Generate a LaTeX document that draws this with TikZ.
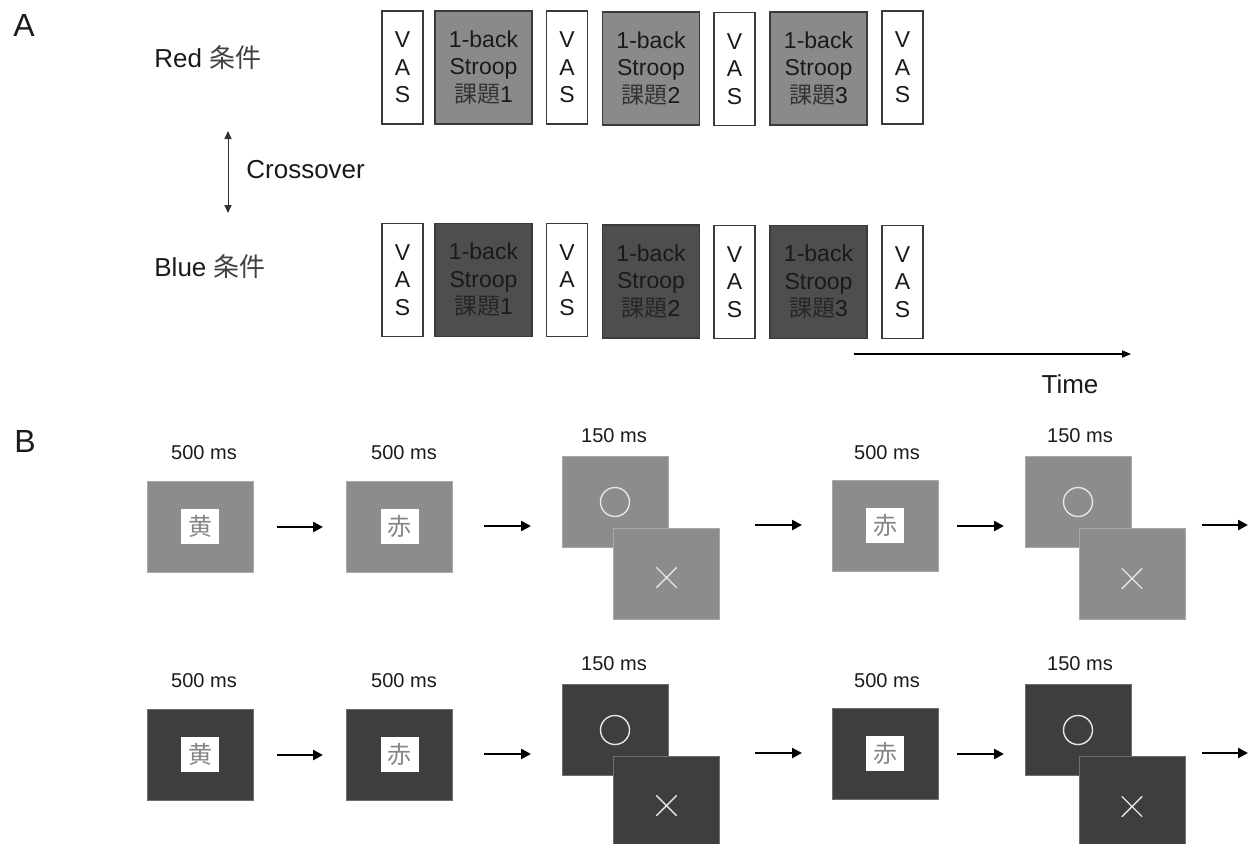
\documentclass[tikz,border=0pt]{standalone}
\usepackage{fontspec}
\setmainfont{Liberation Sans}
\newfontfamily\cjk{Noto Sans CJK JP}
\usetikzlibrary{arrows.meta,calc,shapes.misc}

\definecolor{boxline}{HTML}{3A3A3A}
\definecolor{redtask}{HTML}{8A8A8A}
\definecolor{bluetask}{HTML}{4E4E4E}
\definecolor{redscreen}{HTML}{8C8C8C}
\definecolor{bluescreen}{HTML}{3E3E3E}
\definecolor{kanjigray}{HTML}{858585}
\definecolor{symcol}{HTML}{E6E6E6}
\definecolor{txt}{HTML}{1A1A1A}

\begin{document}
\begin{tikzpicture}[x=0.5pt,y=-0.5pt,
  every node/.style={text=txt},
  vasbox/.style={draw=boxline,line width=0.7pt,fill=white,inner sep=0pt,
    minimum width=20.5pt,minimum height=56.5pt,align=center,
    font=\fontsize{11.5}{13.75}\selectfont,
    execute at begin node={\rule{0pt}{11.3pt}}},
  taskbox/.style={vasbox,minimum width=48.5pt},
  lab/.style={font=\fontsize{13}{15}\selectfont,inner sep=0pt},
  panel/.style={font=\fontsize{16}{18}\selectfont,inner sep=0pt},
  dur/.style={font=\fontsize{10}{12}\selectfont,inner sep=0pt},
  screen/.style={draw=#1!75!white,line width=0.5pt,fill=#1,inner sep=0pt,
    minimum width=53pt,minimum height=45.5pt},
  cue/.style={fill=white,inner sep=0pt,minimum width=19pt,minimum height=17.5pt,
    text=kanjigray,font=\cjk\fontsize{12}{12}\selectfont},
  ringsym/.style={circle,draw=symcol,line width=0.7pt,inner sep=0pt,minimum size=14.5pt},
  crosssym/.style={cross out,draw=symcol,line width=0.7pt,inner sep=0pt,minimum size=9.5pt},
  flow/.style={line width=1.4pt,-{Triangle[length=5pt,width=5pt]}},
  thinarrow/.style={line width=0.5pt,draw=black!80,{Triangle[length=4pt,width=3.6pt]}-{Triangle[length=4pt,width=3.6pt]}},
  timearrow/.style={line width=0.6pt,-{Triangle[length=4.5pt,width=3.6pt]}}
]
\useasboundingbox (0,0) rectangle (1250,843);
\clip (0,0) rectangle (1250,843);

% ---------------- Panel A: session schedule ----------------
\node[panel] (pa) at (24,25.5) {A};
\node[lab,anchor=west] (red) at (154,58) {Red {\cjk\color{black!75}条件}};
\node[lab,anchor=west] (blue) at (154,267) {Blue {\cjk\color{black!75}条件}};

\coordinate (xotop) at (228,131);
\coordinate (xobot) at (228,213);
\draw[thinarrow] (xotop) -- (xobot);
\node[lab,anchor=west] (xo) at (246,170) {Crossover};

% Red condition row
\node[vasbox] (rv1) at (402.5,67.5) {V\\A\\S};
\node[taskbox,fill=redtask] (rt1) at (483.5,67.5) {1-back\\Stroop\\{\cjk\color{black!80}課題}1};
\node[vasbox] (rv2) at (567,67.5) {V\\A\\S};
\node[taskbox,fill=redtask] (rt2) at (651,68.5) {1-back\\Stroop\\{\cjk\color{black!80}課題}2};
\node[vasbox] (rv3) at (734.5,69) {V\\A\\S};
\node[taskbox,fill=redtask] (rt3) at (818.5,68.5) {1-back\\Stroop\\{\cjk\color{black!80}課題}3};
\node[vasbox] (rv4) at (902.5,67.5) {V\\A\\S};

% Blue condition row
\node[vasbox] (bv1) at (402.5,280) {V\\A\\S};
\node[taskbox,fill=bluetask] (bt1) at (483.5,280) {1-back\\Stroop\\{\cjk\color{black!85}課題}1};
\node[vasbox] (bv2) at (567,280) {V\\A\\S};
\node[taskbox,fill=bluetask] (bt2) at (651,281.5) {1-back\\Stroop\\{\cjk\color{black!85}課題}2};
\node[vasbox] (bv3) at (734.5,282) {V\\A\\S};
\node[taskbox,fill=bluetask] (bt3) at (818.5,282) {1-back\\Stroop\\{\cjk\color{black!85}課題}3};
\node[vasbox] (bv4) at (902.5,282) {V\\A\\S};

\coordinate (tstart) at (854,354);
\coordinate (tend) at (1131,354);
\draw[timearrow] (tstart) -- (tend);
\node[lab] (time) at (1070,384) {Time};

% ---------------- Panel B: trial sequence ----------------
\node[panel] (pb) at (25,441) {B};

% row 1 (grey screens) and row 2 (dark screens)
\foreach \r/\dy/\col in {r/0/redscreen, b/228/bluescreen}{
  \node[dur] (\r d1) at (204,453+\dy) {500 ms};
  \node[dur] (\r d2) at (404,453+\dy) {500 ms};
  \node[dur] (\r d3) at (614,436+\dy) {150 ms};
  \node[dur] (\r d4) at (887,453+\dy) {500 ms};
  \node[dur] (\r d5) at (1080,436+\dy) {150 ms};

  \node[screen=\col] (\r s1) at (200,526.5+\dy) {};
  \node[cue] (\r c1) at (\r s1) {黄};
  \node[screen=\col] (\r s2) at (399.5,526.5+\dy) {};
  \node[cue] (\r c2) at (\r s2) {赤};
  \node[screen=\col] (\r s3) at (615,502+\dy) {};
  \node[ringsym] (\r o3) at (\r s3) {};
  \node[screen=\col] (\r x3) at (666.5,573.5+\dy) {};
  \node[crosssym] (\r k3) at ($(\r x3)+(0,4)$) {};
  \node[screen=\col] (\r s4) at (885,525.5+\dy) {};
  \node[cue] (\r c4) at (\r s4) {赤};
  \node[screen=\col] (\r s5) at (1078,502+\dy) {};
  \node[ringsym] (\r o5) at (\r s5) {};
  \node[screen=\col] (\r x5) at (1132,573.5+\dy) {};
  \node[crosssym] (\r k5) at ($(\r x5)+(0,5)$) {};

  \coordinate (\r a1s) at (277,527+\dy);  \coordinate (\r a1e) at (323,527+\dy);
  \coordinate (\r a2s) at (484,526+\dy);  \coordinate (\r a2e) at (531,526+\dy);
  \coordinate (\r a3s) at (755,525+\dy);  \coordinate (\r a3e) at (802,525+\dy);
  \coordinate (\r a4s) at (957,526+\dy);  \coordinate (\r a4e) at (1004,526+\dy);
  \coordinate (\r a5s) at (1202,525+\dy); \coordinate (\r a5e) at (1248,525+\dy);
  \foreach \k in {1,...,5}{\draw[flow] (\r a\k s) -- (\r a\k e);}
}
\end{tikzpicture}
\end{document}
